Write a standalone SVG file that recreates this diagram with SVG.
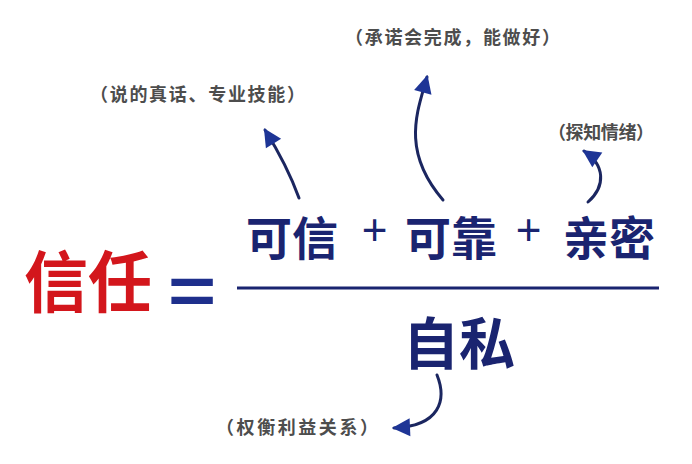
<svg xmlns="http://www.w3.org/2000/svg" width="692" height="464" viewBox="0 0 692 464">
<style>
.main{font-family:"Noto Sans CJK SC","Noto Sans",sans-serif;font-weight:700;fill:#1a2470}
.red{font-family:"Noto Sans CJK SC","Noto Sans",sans-serif;font-weight:700;fill:#d3161c}
.lbl{font-family:"Noto Sans CJK SC","Noto Sans",sans-serif;font-weight:700;font-size:18px;fill:#4d4d4d}
.op{font-family:"Liberation Sans",sans-serif;fill:#1a2470}
.shaft{fill:none;stroke:#1b2660;stroke-width:3;stroke-linecap:round}
</style>
<defs>
<marker id="ah" markerUnits="userSpaceOnUse" markerWidth="24" markerHeight="24" viewBox="-20 -12 24 24" refX="0" refY="0" orient="auto">
<path d="M2,0 L-16,-9 L-16,9 Z" fill="#1e3596"/>
</marker>
</defs>
<rect width="692" height="464" fill="#ffffff"/>
<g id="trust"><text class="red" x="24" y="307" font-size="64" transform="translate(0 307) scale(1 1.04) translate(0 -307)">信任</text></g>
<g id="equals"><text class="op" x="192" y="314" font-size="66" font-weight="700" text-anchor="middle" transform="translate(192 0) scale(1.25 1) translate(-192 0)" style="fill:#1e2f8c">=</text></g>
<g id="fraction"><line x1="237" y1="288" x2="659" y2="288" stroke="#1a2470" stroke-width="3"/></g>
<g id="credible"><text class="main" x="246" y="255" font-size="46">可信</text></g>
<g id="plus1"><text class="op" x="374.5" y="245" font-size="44" text-anchor="middle">+</text></g>
<g id="reliable"><text class="main" x="405" y="255" font-size="46">可靠</text></g>
<g id="plus2"><text class="op" x="528.5" y="245" font-size="44" text-anchor="middle">+</text></g>
<g id="intimacy"><text class="main" x="563" y="255" font-size="46">亲密</text></g>
<g id="selfish"><text class="main" x="403" y="364" font-size="56">自私</text></g>
<g id="label-credible"><text class="lbl" x="90" y="101" textLength="215" lengthAdjust="spacing">（说的真话、专业技能）</text></g>
<g id="label-reliable"><text class="lbl" x="345" y="44" textLength="215" lengthAdjust="spacing">（承诺会完成，能做好）</text></g>
<g id="label-intimacy"><text class="lbl" x="548" y="139" textLength="106" lengthAdjust="spacing">（探知情绪）</text></g>
<g id="label-selfish"><text class="lbl" x="216" y="434" textLength="162" lengthAdjust="spacing">（权衡利益关系）</text></g>
<g id="connectors">
<path class="shaft" d="M299,198 Q287,165 265,130" marker-end="url(#ah)"/>
<path class="shaft" d="M443,200 C400,150 418,110 427,77" marker-end="url(#ah)"/>
<path class="shaft" d="M588,202 C606,186 605,165 584,151" marker-end="url(#ah)"/>
<path class="shaft" d="M437,375 C447,400 440,426 394,428" marker-end="url(#ah)"/>
</g>
</svg>
